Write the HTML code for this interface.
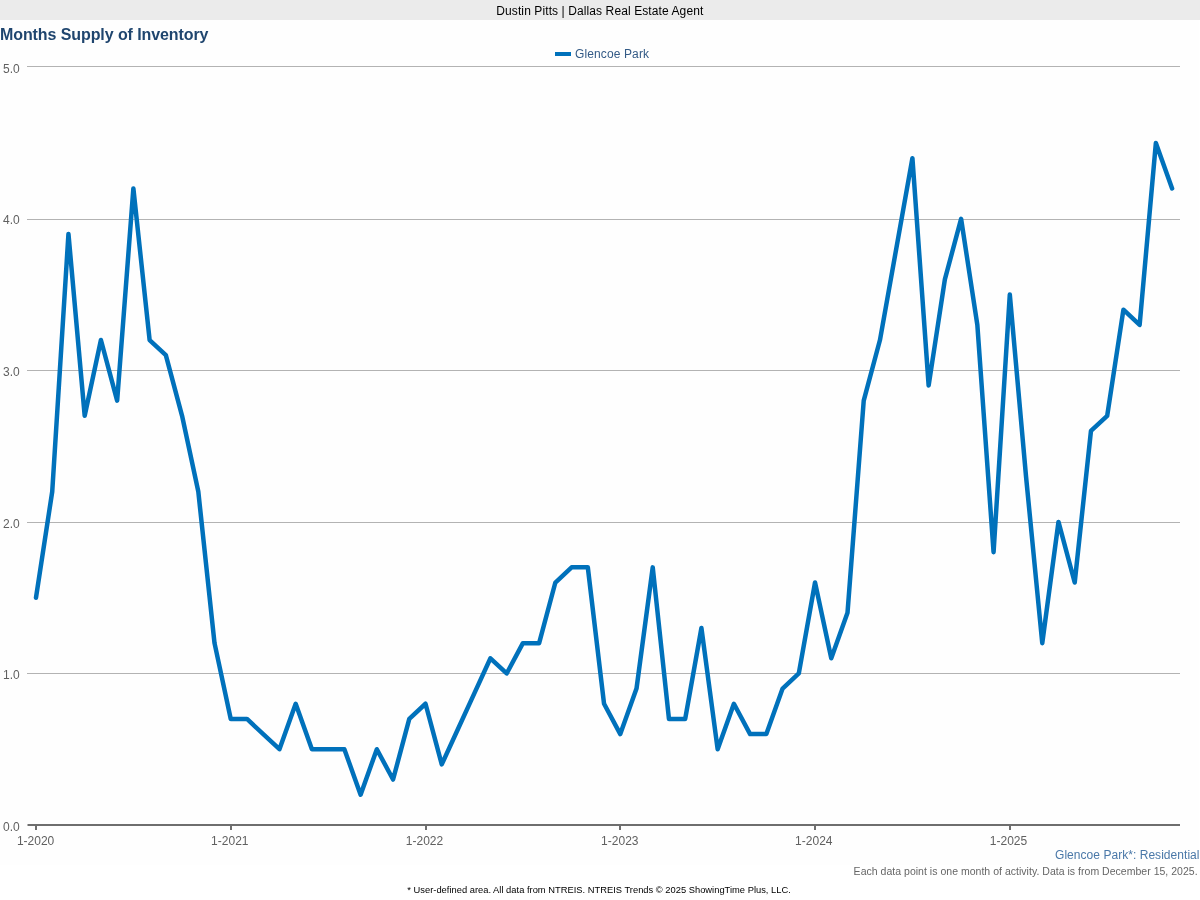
<!DOCTYPE html>
<html><head><meta charset="utf-8"><title>Months Supply of Inventory</title>
<style>
html,body{margin:0;padding:0;background:#fff;}
body{width:1200px;height:900px;overflow:hidden;position:relative;font-family:"Liberation Sans",Arial,sans-serif;}
#hdr{position:absolute;left:0;top:0;width:1200px;height:20px;background:#ebebeb;}
svg{position:absolute;left:0;top:0;}
svg text{font-family:"Liberation Sans",Arial,sans-serif;}
.yl{font-size:12px;fill:#606060;}
.xl{font-size:12px;fill:#606060;}
</style></head><body>
<div id="hdr"></div>
<svg width="1200" height="900" viewBox="0 0 1200 900">
<rect x="0" y="20" width="1199" height="844.5" fill="#fefefe"/>
<text id="t_hdr" x="496.3" y="14.7" font-size="12" fill="#000" textLength="207" lengthAdjust="spacing">Dustin Pitts | Dallas Real Estate Agent</text>
<text id="t_title" x="0" y="39.7" font-size="16" font-weight="bold" fill="#1f456e" textLength="208.5" lengthAdjust="spacing">Months Supply of Inventory</text>
<rect x="555" y="52" width="16" height="4" fill="#0071bb"/>
<text id="t_leg" x="575" y="58" font-size="12" fill="#335a86" textLength="74" lengthAdjust="spacing">Glencoe Park</text>
<rect x="27" y="66" width="1153" height="1" fill="#b3b3b3"/>
<rect x="27" y="219" width="1153" height="1" fill="#b3b3b3"/>
<rect x="27" y="370" width="1153" height="1" fill="#b3b3b3"/>
<rect x="27" y="522" width="1153" height="1" fill="#b3b3b3"/>
<rect x="27" y="673" width="1153" height="1" fill="#b3b3b3"/>

<text x="3.0" y="830.8" class="yl">0.0</text>
<text x="3.0" y="679.2" class="yl">1.0</text>
<text x="3.0" y="527.6" class="yl">2.0</text>
<text x="3.0" y="376.0" class="yl">3.0</text>
<text x="3.0" y="224.4" class="yl">4.0</text>
<text x="3.0" y="72.8" class="yl">5.0</text>

<rect x="27.5" y="824" width="1152.5" height="2" fill="#6e6e6e"/>
<rect x="35.0" y="826" width="2" height="4" fill="#6e6e6e"/>
<rect x="230.0" y="826" width="2" height="4" fill="#6e6e6e"/>
<rect x="425.0" y="826" width="2" height="4" fill="#6e6e6e"/>
<rect x="619.0" y="826" width="2" height="4" fill="#6e6e6e"/>
<rect x="814.0" y="826" width="2" height="4" fill="#6e6e6e"/>
<rect x="1009.0" y="826" width="2" height="4" fill="#6e6e6e"/>

<text x="35.6" y="844.8" class="xl" text-anchor="middle">1-2020</text>
<text x="229.8" y="844.8" class="xl" text-anchor="middle">1-2021</text>
<text x="424.5" y="844.8" class="xl" text-anchor="middle">1-2022</text>
<text x="619.8" y="844.8" class="xl" text-anchor="middle">1-2023</text>
<text x="813.8" y="844.8" class="xl" text-anchor="middle">1-2024</text>
<text x="1008.5" y="844.8" class="xl" text-anchor="middle">1-2025</text>

<polyline fill="none" stroke="#0071bb" stroke-width="4.5" stroke-linejoin="round" stroke-linecap="round" points="36.00,597.67 52.23,491.59 68.46,233.95 84.69,415.81 100.92,340.04 117.15,400.66 133.38,188.49 149.61,340.04 165.84,355.19 182.07,415.81 198.30,491.59 214.53,643.14 230.76,718.91 246.99,718.91 263.22,734.07 279.45,749.23 295.68,703.76 311.91,749.23 328.14,749.23 344.37,749.23 360.60,794.69 376.83,749.23 393.06,779.53 409.29,718.91 425.52,703.76 441.75,764.38 457.98,729.02 474.21,693.65 490.44,658.29 506.67,673.45 522.90,643.14 539.13,643.14 555.36,582.52 571.59,567.37 587.82,567.37 604.05,703.76 620.28,734.07 636.51,688.61 652.74,567.37 668.97,718.91 685.20,718.91 701.43,627.99 717.66,749.23 733.89,703.76 750.12,734.07 766.35,734.07 782.58,688.61 798.81,673.45 815.04,582.52 831.27,658.29 847.50,612.83 863.73,400.66 879.96,340.04 896.19,249.11 912.42,158.18 928.65,385.50 944.88,279.42 961.11,218.80 977.34,324.88 993.57,552.21 1009.80,294.57 1026.03,476.44 1042.26,643.14 1058.49,521.90 1074.72,582.52 1090.95,430.97 1107.18,415.81 1123.41,309.73 1139.64,324.88 1155.87,143.02 1172.10,188.49"/>
<text id="t_res" x="1199.5" y="859" font-size="12" fill="#4a78a8" text-anchor="end" textLength="144.5" lengthAdjust="spacing">Glencoe Park*: Residential</text>
<text id="t_each" x="1197.6" y="874.7" font-size="10.5" fill="#666" text-anchor="end" textLength="344" lengthAdjust="spacing">Each data point is one month of activity. Data is from December 15, 2025.</text>
<text id="t_foot" x="407.3" y="892.6" font-size="9.33" fill="#000" textLength="383.5" lengthAdjust="spacing">* User-defined area. All data from NTREIS. NTREIS Trends © 2025 ShowingTime Plus, LLC.</text>
</svg>
</body></html>
